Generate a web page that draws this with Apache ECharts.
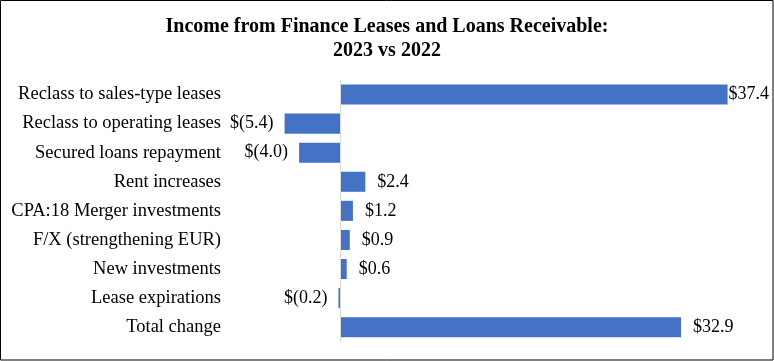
<!DOCTYPE html>
<html>
<head>
<meta charset="utf-8">
<script src="https://cdn.jsdelivr.net/npm/echarts@6/dist/echarts.min.js"></script>
<style>
html,body{margin:0;padding:0;background:#fff;}
#chart{width:774px;height:361px;}
</style>
</head>
<body>
<div id="chart"></div>
<script>
var titleLines = ['Income from Finance Leases and Loans Receivable:', '2023 vs 2022'];
var categories = [
  'Reclass to sales-type leases',
  'Reclass to operating leases',
  'Secured loans repayment',
  'Rent increases',
  'CPA:18 Merger investments',
  'F/X (strengthening EUR)',
  'New investments',
  'Lease expirations',
  'Total change'
];
var values = [37.4, -5.4, -4.0, 2.4, 1.2, 0.9, 0.6, -0.2, 32.9];

function fmt(v) {
  return v < 0 ? '$(' + Math.abs(v).toFixed(1) + ')' : '$' + v.toFixed(1);
}
var maxVal = Math.max.apply(null, values);
var FONT = '"Liberation Serif", "Times New Roman", serif';

var seriesData = values.map(function (v) {
  return {
    value: v,
    label: {
      position: v < 0 ? 'left' : 'right',
      distance: v === maxVal ? 1 : (v < 0 ? 11 : 12)
    }
  };
});

var chart = echarts.init(document.getElementById('chart'), null, {renderer: 'canvas'});
chart.setOption({
  animation: false,
  backgroundColor: '#fff',
  title: {
    text: titleLines.join('\n'),
    left: 'center',
    top: 10,
    textStyle: {
      fontFamily: FONT,
      fontWeight: 'bold',
      fontSize: 20,
      lineHeight: 24,
      color: '#000'
    }
  },
  graphic: [{
    type: 'rect',
    shape: {x: 0.5, y: 0.5, width: 772.5, height: 359.5},
    style: {fill: 'none', stroke: '#000', lineWidth: 1},
    silent: true
  }],
  grid: {left: 237, top: 80, width: 517.5, height: 261.7, containLabel: false},
  xAxis: {
    type: 'value',
    min: -10,
    max: 40,
    show: false,
    splitLine: {show: false}
  },
  yAxis: {
    type: 'category',
    data: categories,
    inverse: true,
    axisLine: {show: false},
    axisTick: {show: false},
    axisLabel: {
      margin: 16,
      fontFamily: FONT,
      fontSize: 18.5,
      color: '#000'
    }
  },
  series: [{
    type: 'bar',
    data: seriesData,
    barCategoryGap: '31%',
    itemStyle: {color: '#4472C4'},
    label: {
      show: true,
      fontFamily: FONT,
      fontSize: 18,
      color: '#000',
      formatter: function (p) { return fmt(p.value); }
    },
    markLine: {
      silent: true,
      symbol: ['none', 'none'],
      label: {show: false},
      lineStyle: {color: '#d9d9d9', width: 1, type: 'solid'},
      data: [{xAxis: 0}]
    }
  }]
});
</script>
</body>
</html>
